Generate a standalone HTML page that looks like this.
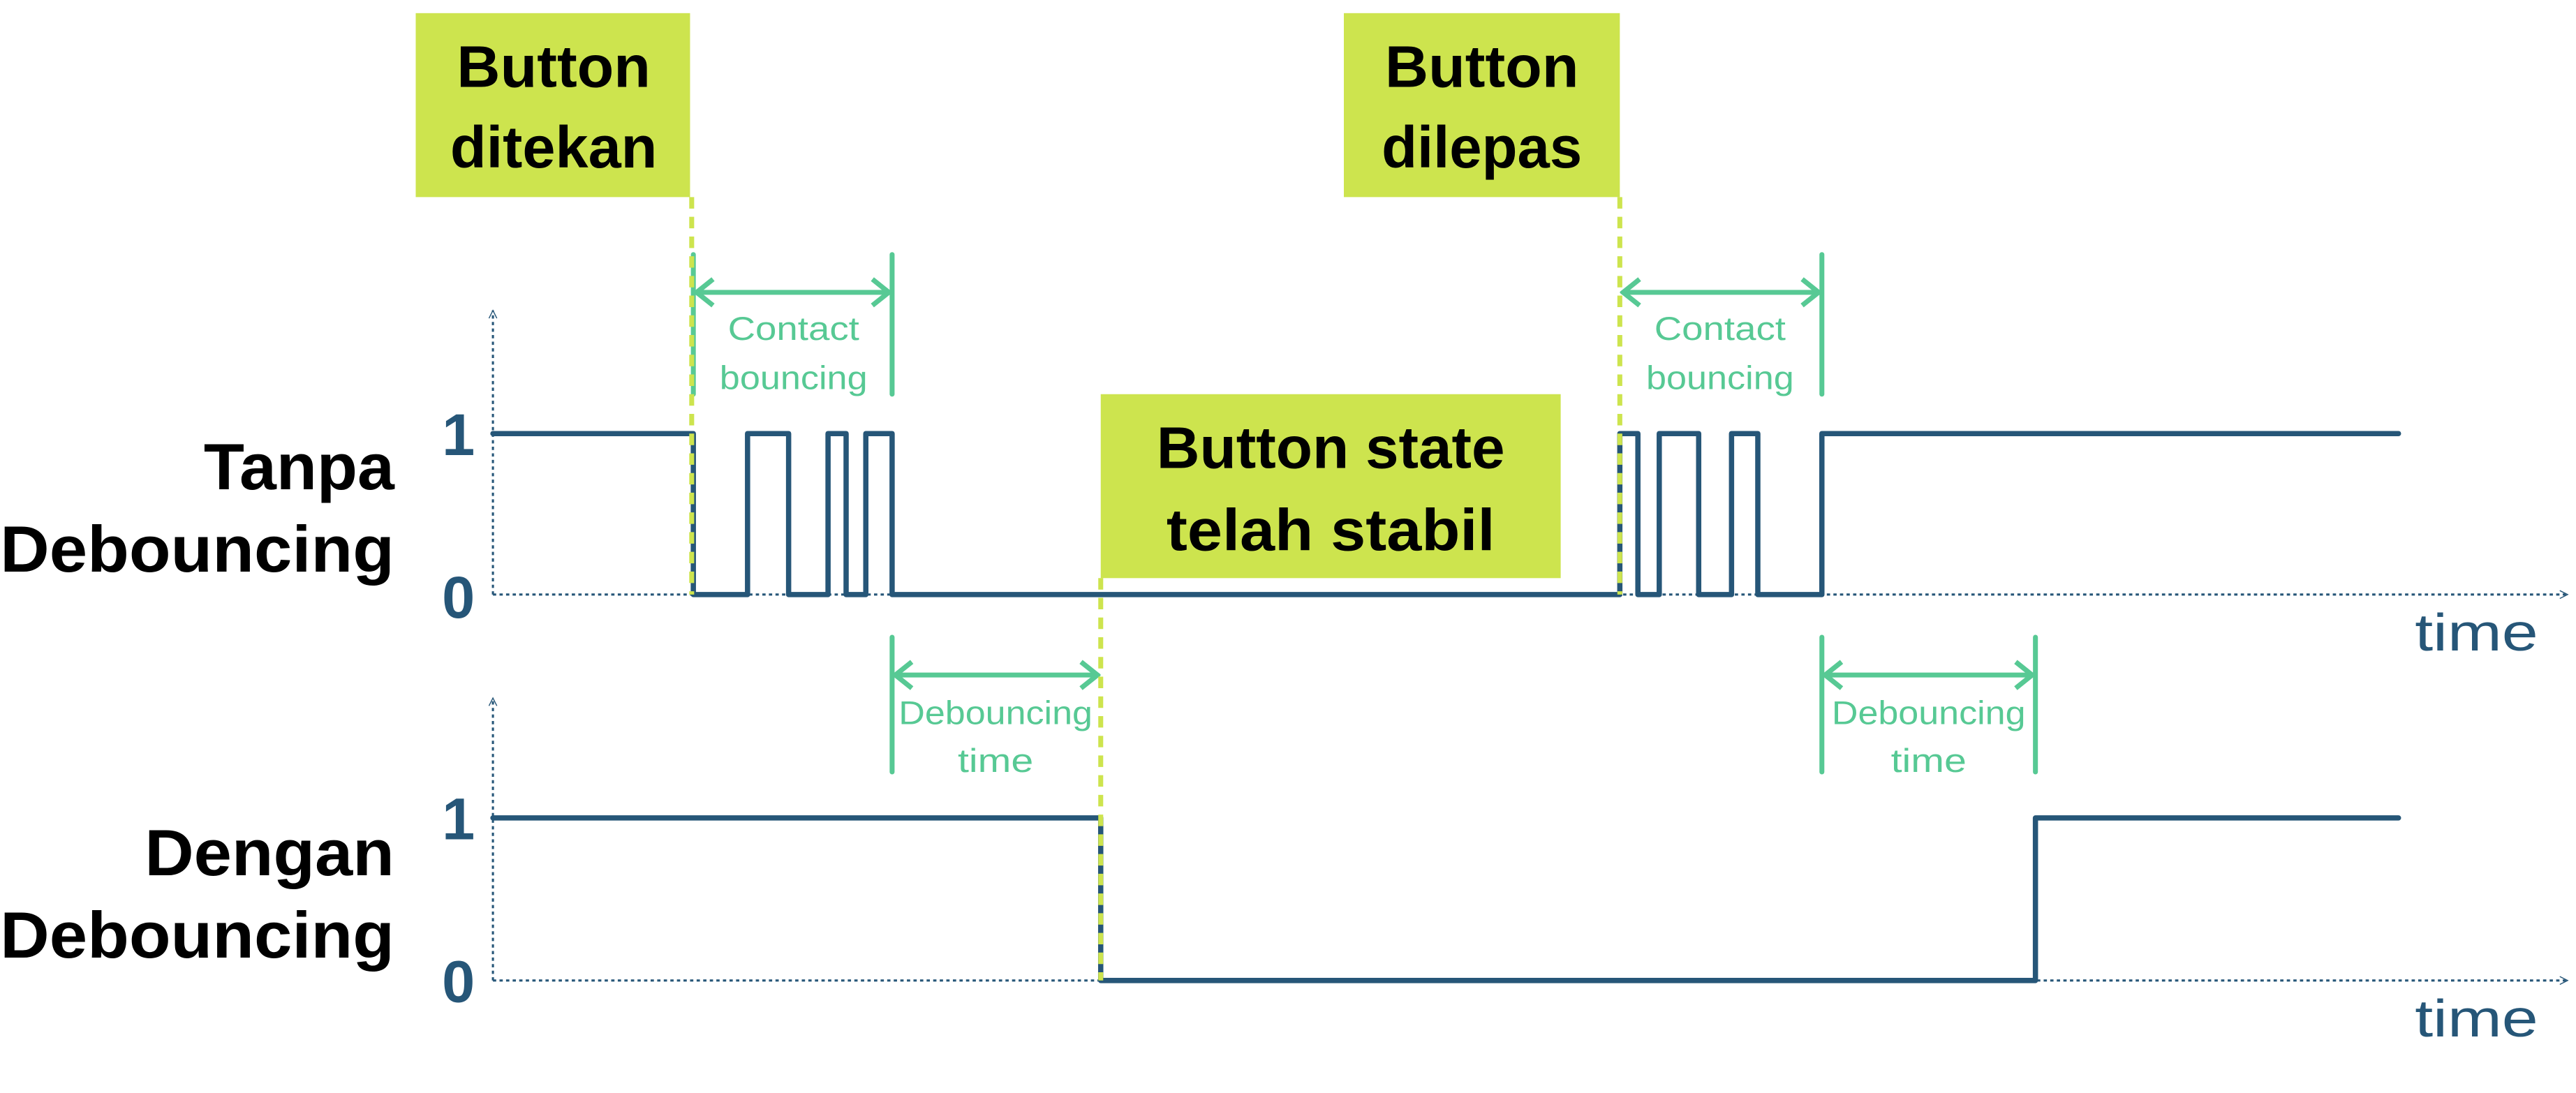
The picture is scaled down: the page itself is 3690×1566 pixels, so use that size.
<!DOCTYPE html>
<html><head><style>html,body{margin:0;padding:0;background:#fff}svg{display:block}</style></head>
<body>
<svg width="3690" height="1566" viewBox="0 0 1568 665.5" xmlns="http://www.w3.org/2000/svg" font-family="Liberation Sans, sans-serif">
<defs>
<marker id="ah" viewBox="0 0 10 10" refX="9" refY="5" markerWidth="6" markerHeight="6" orient="auto-start-reverse" markerUnits="userSpaceOnUse"><path d="M1,1 L9,5 L1,9" fill="none" stroke="#265678" stroke-width="1"/></marker>
<marker id="ga" viewBox="0 0 20 20" refX="18" refY="10" markerWidth="20" markerHeight="20" orient="auto-start-reverse" markerUnits="userSpaceOnUse"><path d="M8,2 L18,10 L8,18" fill="none" stroke="#57c994" stroke-width="3"/></marker>
</defs>
<!-- boxes -->
<rect x="253" y="8" width="167" height="112" fill="#cde44e"/>
<rect x="818" y="8" width="168" height="112" fill="#cde44e"/>
<rect x="670" y="240" width="280" height="112" fill="#cde44e"/>
<g font-weight="bold" font-size="36" text-anchor="middle" fill="#000">
<text x="337" y="53" textLength="118" lengthAdjust="spacingAndGlyphs">Button</text>
<text x="337" y="102" textLength="126" lengthAdjust="spacingAndGlyphs">ditekan</text>
<text x="902" y="53" textLength="118" lengthAdjust="spacingAndGlyphs">Button</text>
<text x="902" y="102" textLength="122" lengthAdjust="spacingAndGlyphs">dilepas</text>
<text x="810" y="285" textLength="212" lengthAdjust="spacingAndGlyphs">Button state</text>
<text x="810" y="335" textLength="200" lengthAdjust="spacingAndGlyphs">telah stabil</text>
</g>
<!-- row labels -->
<g font-weight="bold" font-size="40" text-anchor="end" fill="#000">
<text x="240" y="298" textLength="116" lengthAdjust="spacingAndGlyphs">Tanpa</text>
<text x="240" y="348" textLength="240" lengthAdjust="spacingAndGlyphs">Debouncing</text>
<text x="240" y="533" textLength="152" lengthAdjust="spacingAndGlyphs">Dengan</text>
<text x="240" y="583" textLength="240" lengthAdjust="spacingAndGlyphs">Debouncing</text>
</g>
<g font-weight="bold" font-size="36" text-anchor="middle" fill="#265678">
<text x="279" y="277">1</text><text x="279" y="376">0</text>
<text x="279" y="511">1</text><text x="279" y="610">0</text>
</g>
<g font-size="32" fill="#265678">
<text x="1470" y="396" textLength="75" lengthAdjust="spacingAndGlyphs">time</text>
<text x="1470" y="631" textLength="75" lengthAdjust="spacingAndGlyphs">time</text>
</g>
<!-- axes -->
<g stroke="#265678" stroke-width="1.3" fill="none" stroke-dasharray="2,2">
<line x1="300" y1="362" x2="300" y2="189" marker-end="url(#ah)"/>
<line x1="300" y1="362" x2="1563" y2="362" marker-end="url(#ah)"/>
<line x1="300" y1="597" x2="300" y2="425" marker-end="url(#ah)"/>
<line x1="300" y1="597" x2="1563" y2="597" marker-end="url(#ah)"/>
</g>
<!-- green brackets -->
<g stroke="#57c994" stroke-width="3" fill="none" stroke-linecap="round">
<line x1="543" y1="155" x2="543" y2="240"/>
<line x1="422" y1="155" x2="422" y2="240"/>
<line x1="424" y1="178" x2="541" y2="178" marker-start="url(#ga)" marker-end="url(#ga)"/>
<line x1="1109" y1="155" x2="1109" y2="240"/>
<line x1="988" y1="178" x2="1107" y2="178" marker-start="url(#ga)" marker-end="url(#ga)"/>
<line x1="543" y1="388" x2="543" y2="470"/>
<line x1="545" y1="411" x2="668" y2="411" marker-start="url(#ga)" marker-end="url(#ga)"/>
<line x1="1109" y1="388" x2="1109" y2="470"/>
<line x1="1239" y1="388" x2="1239" y2="470"/>
<line x1="1111" y1="411" x2="1237" y2="411" marker-start="url(#ga)" marker-end="url(#ga)"/>
</g>
<g font-size="20" text-anchor="middle" fill="#57c994">
<text x="483" y="207" textLength="80" lengthAdjust="spacingAndGlyphs">Contact</text>
<text x="483" y="237" textLength="90" lengthAdjust="spacingAndGlyphs">bouncing</text>
<text x="1047" y="207" textLength="80" lengthAdjust="spacingAndGlyphs">Contact</text>
<text x="1047" y="237" textLength="90" lengthAdjust="spacingAndGlyphs">bouncing</text>
<text x="606" y="441" textLength="118" lengthAdjust="spacingAndGlyphs">Debouncing</text>
<text x="606" y="470" textLength="46" lengthAdjust="spacingAndGlyphs">time</text>
<text x="1174" y="441" textLength="118" lengthAdjust="spacingAndGlyphs">Debouncing</text>
<text x="1174" y="470" textLength="46" lengthAdjust="spacingAndGlyphs">time</text>
</g>
<!-- signals -->
<g stroke="#265678" stroke-width="3.2" fill="none" stroke-linejoin="round" stroke-linecap="round">
<polyline points="300,264 422,264 422,362 455,362 455,264 480,264 480,362 504,362 504,264 515,264 515,362 527,362 527,264 543,264 543,362 986,362 986,264 997,264 997,362 1010,362 1010,264 1034,264 1034,362 1054,362 1054,264 1070,264 1070,362 1109,362 1109,264 1460,264"/>
<polyline points="300,498 670,498 670,597 1239,597 1239,498 1460,498"/>
</g>
<!-- yellow dashed -->
<g stroke="#cde44e" stroke-width="3" fill="none" stroke-dasharray="7,5">
<line x1="421" y1="120" x2="421" y2="362"/>
<line x1="986" y1="120" x2="986" y2="362"/>
<line x1="670" y1="352" x2="670" y2="597"/>
</g>
</svg>
</body></html>
